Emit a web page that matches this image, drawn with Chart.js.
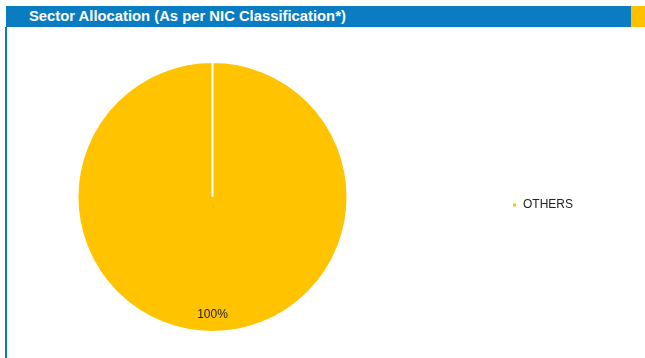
<!DOCTYPE html>
<html>
<head>
<meta charset="utf-8">
<script src="https://cdn.jsdelivr.net/npm/chart.js@4.4.1/dist/chart.umd.min.js"></script>
<style>
  html, body { margin: 0; padding: 0; background: #fff; }
  body { width: 645px; height: 358px; position: relative; overflow: hidden; font-family: "Liberation Sans", Arial, sans-serif; }
  .header { position: absolute; left: 6px; top: 6px; width: 625px; height: 21px; background: #0a7cc2; }
  .header span { position: absolute; left: 23px; top: 3px; line-height: 15px; color: #fff; font-weight: bold; font-size: 14.8px; white-space: nowrap; }
  .accent { position: absolute; left: 631px; top: 6px; width: 14px; height: 21px; background: #ffc000; }
  .leftline { position: absolute; left: 5px; top: 27px; width: 2px; height: 331px; background: #0a7cc2; }
  .wrap { position: absolute; left: 7px; top: 27px; width: 638px; height: 331px; }
</style>
</head>
<body>
<div class="header"><span>Sector Allocation (As per NIC Classification*)</span></div>
<div class="accent"></div>
<div class="leftline"></div>
<div class="wrap"><canvas id="pieChart"></canvas></div>
<script>
const sectors = ['OTHERS'];
const weights = [100];
const sectorColors = ['#ffc300'];

// draws the percentage label near the outer edge of each slice
const sliceLabels = {
  id: 'sliceLabels',
  afterDatasetsDraw(chart) {
    const ctx = chart.ctx;
    const meta = chart.getDatasetMeta(0);
    const total = weights.reduce((a, b) => a + b, 0);
    meta.data.forEach((arc, i) => {
      if (!weights[i]) return;
      const p = arc.getProps(['x', 'y', 'startAngle', 'endAngle', 'outerRadius']);
      const mid = (p.startAngle + p.endAngle) / 2;
      const r = p.outerRadius * 0.875;
      ctx.save();
      ctx.fillStyle = '#222';
      ctx.font = '12px "Liberation Sans", Arial, sans-serif';
      ctx.textAlign = 'center';
      ctx.textBaseline = 'middle';
      ctx.fillText(Math.round(weights[i] / total * 100) + '%', p.x + Math.cos(mid) * r, p.y + Math.sin(mid) * r);
      ctx.restore();
    });
  }
};

new Chart(document.getElementById('pieChart'), {
  type: 'pie',
  data: {
    labels: sectors,
    datasets: [{ data: weights, backgroundColor: sectorColors, borderColor: '#fff', borderWidth: 2 }]
  },
  options: {
    responsive: true,
    maintainAspectRatio: false,
    animation: false,
    layout: { padding: { left: 69, top: 34, bottom: 25, right: 62 } },
    plugins: {
      tooltip: { enabled: false },
      legend: {
        position: 'right',
        title: { display: true, text: '', font: { size: 12, lineHeight: 1 }, padding: { top: 2, bottom: 2 } },
        labels: {
          boxWidth: 5, boxHeight: 5, padding: 163, color: '#222',
          font: { size: 12, family: '"Liberation Sans", Arial, sans-serif' }
        }
      }
    }
  },
  plugins: [sliceLabels]
});
</script>
</body>
</html>
